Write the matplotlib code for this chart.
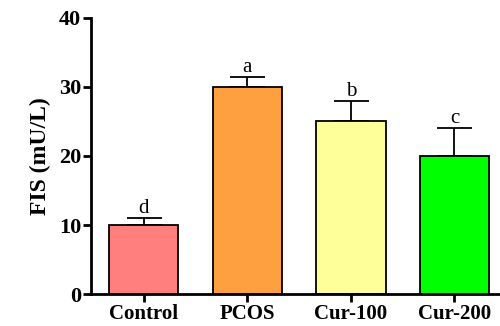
import numpy as np
import matplotlib
matplotlib.use("Agg")
import matplotlib.pyplot as plt

# datos
groups = ["Control", "PCOS", "Cur-100", "Cur-200"]
means = [10, 30, 25, 20]
errs = [1.0, 1.5, 3.0, 4.0]
letters = ["d", "a", "b", "c"]
colors = ["#FF7F7F", "#FFA040", "#FFFF99", "#00FF00"]

plt.rcParams["font.family"] = ["Liberation Serif", "DejaVu Serif"]

fig = plt.figure(figsize=(5, 3.26), dpi=100)
ax = fig.add_axes([0.182, 0.098, 0.818, 0.847])

x = np.arange(len(groups))
ax.bar(x, means, width=0.67, color=colors, edgecolor="black", linewidth=1.3, zorder=2)
ax.errorbar(x, means, yerr=[np.zeros(len(errs)), errs], fmt="none",
            ecolor="black", elinewidth=1.3, capsize=12.6, capthick=1.3, zorder=1)

for xi, m, e, t in zip(x, means, errs, letters):
    ax.text(xi, m + e, t, ha="center", va="bottom", fontsize=15)

ax.set_xlim(-0.51, 3.44)
ax.set_ylim(0, 40)
ax.set_yticks([0, 10, 20, 30, 40])
ax.set_xticks(x)
ax.set_xticklabels(groups, fontsize=15, fontweight="bold")
for lab in ax.get_yticklabels():
    lab.set_fontsize(16)
    lab.set_fontweight("bold")
ax.set_ylabel("FIS (mU/L)", fontsize=17, fontweight="bold", labelpad=6)

ax.spines["top"].set_visible(False)
ax.spines["right"].set_visible(False)
ax.spines["left"].set_linewidth(2)
ax.spines["bottom"].set_linewidth(2)
ax.tick_params(width=2, length=6, pad=1)

fig.savefig("out.png", dpi=100)
